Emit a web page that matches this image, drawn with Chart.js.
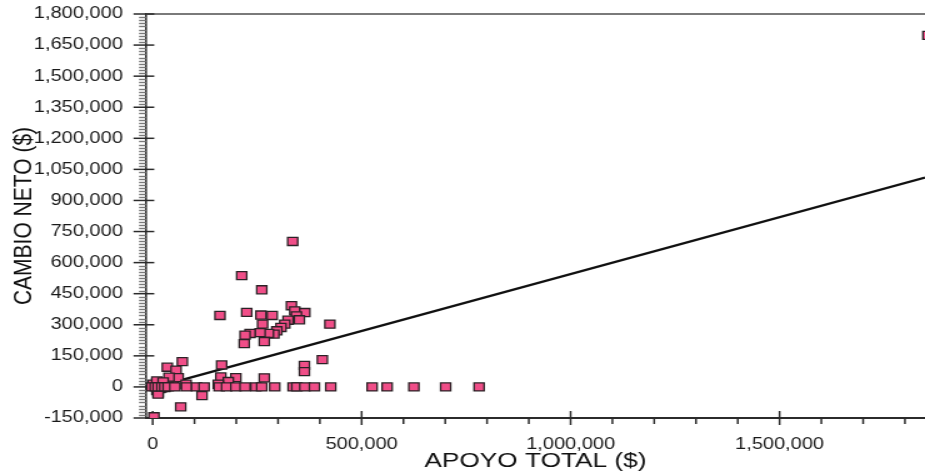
<!DOCTYPE html>
<html><head><meta charset="utf-8">
<script src="https://cdn.jsdelivr.net/npm/chart.js@4/dist/chart.umd.min.js"></script>
<style>
html,body{margin:0;padding:0;background:#fff;overflow:hidden;width:925px;height:472px;}
#wrap{position:absolute;left:0;top:0;width:740px;height:472px;transform:scaleX(1.25);transform-origin:0 0;}
canvas{display:block;}
</style></head><body>
<div id="wrap"><canvas id="c" width="740" height="472"></canvas></div>
<script>
// ---- data ----
const apoyoTotal = [
  335000, 213000, 261000, 161000, 225000, 259000, 286000, 332000, 340000, 364000,
  344000, 351000, 324000, 316000, 307000, 297000, 290000, 277000, 263000, 257000,
  233000, 221000, 219000, 267000, 424000, 406000, 363000, 363000, 165000, 163000,
  71000, 35000, 56000, 61000, 39000, 199000, 267000, 181000, 157000, 118000,
  67000, 3000, 80000, 10000, 13000, 10000, 20000, 1000, 10000, 17000,
  29000, 13000, 25000, 49000, 1855000,
  -2000, 6000, 13000, 22000, 29000, 37000, 53000, 81000, 105000, 123000,
  159000, 177000, 199000, 221000, 247000, 261000, 292000, 336000, 345000, 364000,
  387000, 426000, 525000, 561000, 625000, 701000, 781000
];
const cambioNeto = [
  702000, 537000, 469000, 345000, 360000, 347000, 345000, 392000, 367000, 359000,
  343000, 324000, 322000, 303000, 287000, 271000, 255000, 258000, 303000, 262000,
  258000, 250000, 209000, 219000, 303000, 132000, 104000, 74000, 106000, 48000,
  122000, 95000, 81000, 45000, 47000, 45000, 44000, 26000, 13000, -42000,
  -96000, -144000, 13000, 21000, -28000, -17000, -5000, 13000, 29000, -8000,
  -3000, -35000, 24000, 5000, 1697000,
  0, 0, 0, 0, 0, 0, 0, 0, 0, 0,
  0, 0, 0, 0, 0, 0, 0, 0, 0, 0,
  0, 0, 0, 0, 0, 0, 0
];
const trendX = [0, 1848000];
const trendY = [-5000, 1011000];
const xMajorTicks = [0, 500000, 1000000, 1500000];
const yMajorTicks = [-150000, 0, 150000, 300000, 450000, 600000, 750000, 900000,
  1050000, 1200000, 1350000, 1500000, 1650000, 1800000];
const xMinorStep = 100000;
const yMinorStep = 15000;
const xAxisTitle = 'APOYO TOTAL ($)';
const yAxisTitle = 'CAMBIO NETO ($)';

// ---- chart ----
const fmt = v => Number(v).toLocaleString('en-US');
const points = apoyoTotal.map((x, i) => ({x: x, y: cambioNeto[i]}));
const trend = trendX.map((x, i) => ({x: x, y: trendY[i]}));

Chart.defaults.font.family = '"Liberation Sans", Arial, sans-serif';
Chart.defaults.color = '#1a1a1a';

const tickPlugin = {
  id: 'ticksAndFrame',
  beforeDatasetsDraw(chart) {
    const {ctx, chartArea: a, scales: {x, y}} = chart;
    ctx.save();
    ctx.strokeStyle = '#7a7a7a';
    ctx.lineWidth = 2;
    ctx.beginPath();
    ctx.moveTo(a.left, a.top);
    ctx.lineTo(a.right, a.top);
    ctx.stroke();
    ctx.strokeStyle = '#7a7a7a';
    ctx.lineWidth = 1.4;
    for (let v = y.min; v <= y.max + 1; v += yMinorStep) {
      if (yMajorTicks.includes(v)) continue;
      const p = Math.round(y.getPixelForValue(v)) + 0.5;
      ctx.beginPath(); ctx.moveTo(a.left - 5.6, p); ctx.lineTo(a.left, p); ctx.stroke();
    }
    ctx.strokeStyle = '#2b2b2b';
    ctx.lineWidth = 1.5;
    yMajorTicks.forEach(v => {
      const p = y.getPixelForValue(v);
      ctx.beginPath(); ctx.moveTo(a.left - 10, p); ctx.lineTo(a.left + 6.6, p); ctx.stroke();
    });
    ctx.lineWidth = 1.5;
    for (let v = 0; v <= x.max; v += xMinorStep) {
      if (xMajorTicks.includes(v)) continue;
      const p = x.getPixelForValue(v);
      ctx.beginPath(); ctx.moveTo(p, a.bottom); ctx.lineTo(p, a.bottom + 6); ctx.stroke();
    }
    xMajorTicks.forEach(v => {
      const p = x.getPixelForValue(v);
      ctx.beginPath(); ctx.moveTo(p, a.bottom - 7); ctx.lineTo(p, a.bottom + 7); ctx.stroke();
    });
    ctx.restore();
  }
};

new Chart(document.getElementById('c'), {
  type: 'scatter',
  data: {
    datasets: [
      {
        data: points,
        backgroundColor: '#F04E88',
        borderColor: '#2b2226',
        borderWidth: 1.3,
        pointStyle: 'rect',
        pointRadius: 5.7,
        order: 1
      },
      {
        type: 'line',
        data: trend,
        showLine: true,
        borderColor: '#111111',
        borderWidth: 2.3,
        pointRadius: 0,
        fill: false,
        tension: 0,
        order: 2
      }
    ]
  },
  options: {
    responsive: false,
    animation: false,
    layout: {autoPadding: false, padding: {top: 14, left: 0, right: 0, bottom: 0}},
    plugins: {legend: {display: false}, tooltip: {enabled: false}},
    scales: {
      x: {
        type: 'linear',
        min: -16000,
        max: 1848000,
        afterBuildTicks: s => { s.ticks = xMajorTicks.map(v => ({value: v})); },
        ticks: {callback: fmt, font: {size: 16}, padding: 9, maxRotation: 0, autoSkip: false, color: '#1a1a1a'},
        grid: {display: false},
        border: {display: true, color: '#2b2b2b', width: 2},
        title: {display: true, text: xAxisTitle, font: {size: 21}, padding: {top: 0, bottom: -2}, color: '#111'},
        afterFit: s => { s.height = 54; s.paddingLeft = 0; s.paddingRight = 0; }
      },
      y: {
        type: 'linear',
        min: -150000,
        max: 1800000,
        afterBuildTicks: s => { s.ticks = yMajorTicks.map(v => ({value: v})); },
        ticks: {callback: fmt, font: {size: 16}, padding: 10.5, autoSkip: false, color: '#1a1a1a'},
        grid: {display: false},
        border: {display: true, color: '#2b2b2b', width: 1.6},
        title: {display: true, text: yAxisTitle, font: {size: 21}, padding: {top: 6.5, bottom: 0}, color: '#111'},
        afterFit: s => { s.width = 116.8; s.paddingTop = 0; s.paddingBottom = 0; }
      }
    }
  },
  plugins: [tickPlugin]
});
</script>
</body></html>
